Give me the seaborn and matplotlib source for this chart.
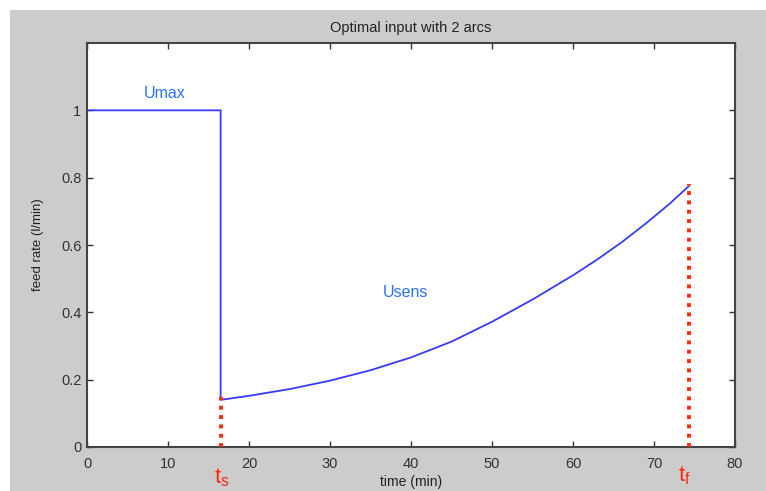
import numpy as np
import pandas as pd
import matplotlib
matplotlib.use("Agg")
import matplotlib.pyplot as plt
import seaborn as sns
from matplotlib.patches import Rectangle

# ---- data ----
t_switch = 16.5
t_final = 74.3
u_max = 1.0
umax_t = [0.0, 16.5, 16.5]
umax_u = [1.0, 1.0, 0.14]
sens_t = [16.5, 20, 25, 30, 35, 40, 45, 50, 55, 60, 63, 66, 69, 72, 74.3]
sens_u = [0.140, 0.152, 0.172, 0.197, 0.228, 0.266, 0.313, 0.372, 0.438, 0.510,
          0.557, 0.608, 0.664, 0.724, 0.775]
ts_marker_t = [16.5, 16.5]
ts_marker_u = [0.0, 0.15]
tf_marker_t = [74.3, 74.3]
tf_marker_u = [0.0, 0.78]
xticks = [0, 10, 20, 30, 40, 50, 60, 70, 80]
yticks = [0, 0.2, 0.4, 0.6, 0.8, 1.0]
ytick_labels = ["0", "0.2", "0.4", "0.6", "0.8", "1"]

sns.set_style("ticks")
plt.rcParams['font.family'] = ['Liberation Sans', 'DejaVu Sans']

W, H = 766, 491
fig = plt.figure(figsize=(W / 100, H / 100), dpi=100, facecolor="white")
# gray MATLAB-like figure panel
bg = Rectangle((10 / W, 0), 1 - 10 / W, 1 - 10 / H,
               transform=fig.transFigure, facecolor="#cccccc",
               edgecolor="none", zorder=-10)
fig.patches.append(bg)
ax = fig.add_axes([87 / W, 1 - 447 / H, (735 - 87) / W, (447 - 43) / H])
ax.set_zorder(5)
ax.set_facecolor("white")

traj = pd.DataFrame({"t": umax_t + sens_t[1:], "u": umax_u[:-1] + sens_u})
sns.lineplot(data=traj, x="t", y="u", sort=False, estimator=None,
             color="#3a3aff", linewidth=1.3, ax=ax)

marks = pd.DataFrame({"t": ts_marker_t + tf_marker_t,
                      "u": ts_marker_u + tf_marker_u,
                      "which": ["ts", "ts", "tf", "tf"]})
for name, g in marks.groupby("which"):
    sns.lineplot(data=g, x="t", y="u", sort=False, estimator=None,
                 color="#ff2a10", linewidth=2.8, linestyle=(0, (1, 1.4)),
                 ax=ax, zorder=3, clip_on=False)

ax.set_xlim(0, 80)
ax.set_ylim(0, 1.2)
ax.set_xticks(xticks)
ax.set_yticks(yticks)
ax.set_yticklabels(ytick_labels)
ax.tick_params(direction="in", top=True, right=True, length=4, width=1,
               labelsize=10.5, colors="#333333", labelcolor="#333333")
ax.tick_params(axis="x", pad=7)
ax.tick_params(axis="y", pad=4)
for s in ax.spines.values():
    s.set_color("#444444")
    s.set_linewidth(1.5)

ax.set_title("Optimal input with 2 arcs", fontsize=10.5, color="#222222", pad=8)
ax.set_xlabel("time (min)", fontsize=10, color="#222222", labelpad=3)
ax.set_ylabel("feed rate (l/min)", fontsize=9.5, color="#222222", labelpad=12,
              fontstretch="condensed")

ax.text(9.6, 1.05, "Umax", color="#2a72ff", fontsize=11.5, ha="center", va="center")
ax.text(39.3, 0.46, "Usens", color="#2a72ff", fontsize=11.5, ha="center", va="center")
fig.text(222 / W, 1 - 478 / H, r"t$_\mathregular{s}$", color="#ff2a10", fontsize=16,
         ha="center", va="center")
fig.text(684 / W, 1 - 476 / H, r"t$_\mathregular{f}$", color="#ff2a10", fontsize=16,
         ha="center", va="center")

fig.savefig("out.png", dpi=100, facecolor="white")
